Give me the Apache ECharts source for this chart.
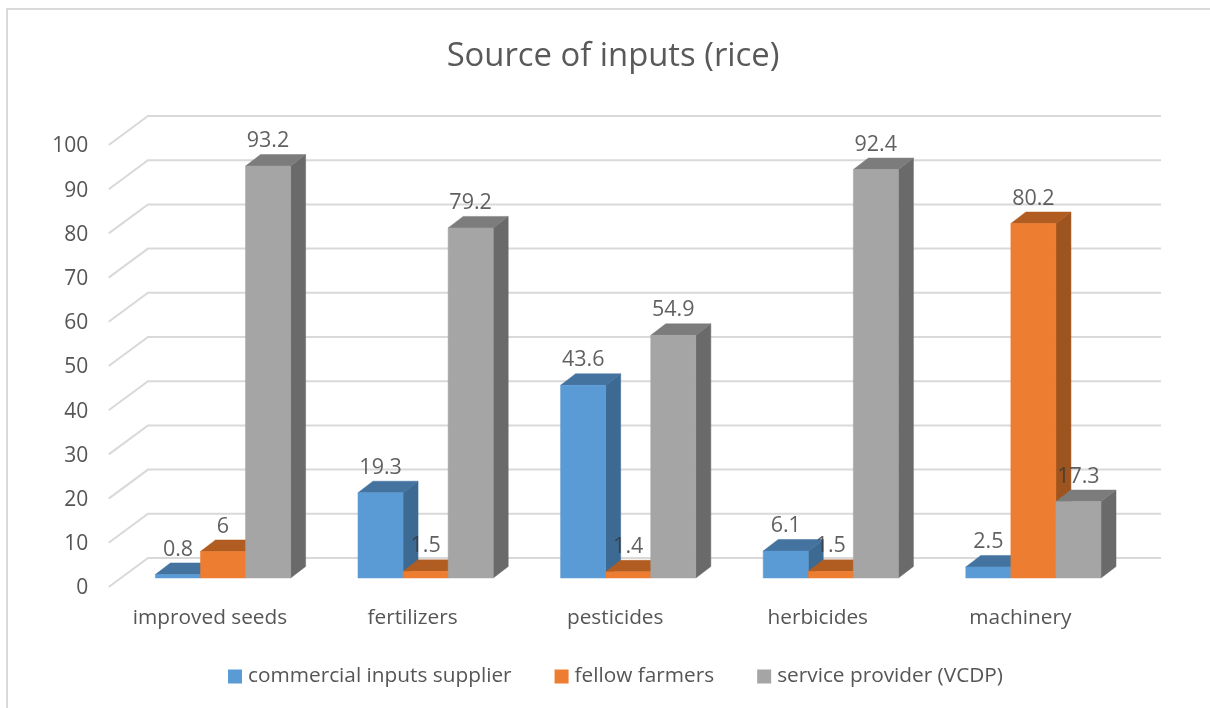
<!DOCTYPE html>
<html>
<head>
<meta charset="utf-8">
<style>html,body{margin:0;padding:0;background:#fff}#chart{width:1210px;height:708px}</style>
<script src="https://cdn.jsdelivr.net/npm/echarts@6/dist/echarts.min.js"></script>
</head>
<body>
<div id="chart"></div>
<script>
const categories = ['improved seeds', 'fertilizers', 'pesticides', 'herbicides', 'machinery'];
const supplierValues = [0.8, 19.3, 43.6, 6.1, 2.5];
const farmerValues = [6, 1.5, 1.4, 1.5, 80.2];
const providerValues = [93.2, 79.2, 54.9, 92.4, 17.3];
const valueTicks = [0, 10, 20, 30, 40, 50, 60, 70, 80, 90, 100];

const FONT = '"Open Sans", "Noto Sans", sans-serif';

// Oblique projection used for the fake 3D: bar depth, and how far the walls
// sit in front of and behind the plane the bars stand on.
const BAR_DEPTH = [15, -11.5];
const WALL_FRONT = [-13, 9];
const WALL_BACK = [26.3, -20];
const BAR_SHARE = 0.2225;

function shade(points, fill) {
  return { type: 'polygon', shape: { points }, style: { fill, stroke: fill, lineWidth: 0.5 } };
}

// One column: the front face plus the lit top and shadowed right side.
function barRenderer(slot, front, top, side) {
  return function (params, api) {
    const band = api.size([1, 0])[0];
    const w = band * BAR_SHARE;
    const up = api.coord([api.value(0), api.value(1)]);
    const base = api.coord([api.value(0), 0]);
    const l = up[0] + (slot - 1.5) * w;
    const r = l + w;
    const [dx, dy] = BAR_DEPTH;
    return {
      type: 'group',
      children: [
        shade([[r, up[1]], [r + dx, up[1] + dy], [r + dx, base[1] + dy], [r, base[1]]], side),
        shade([[l, up[1]], [l + dx, up[1] + dy], [r + dx, up[1] + dy], [r, up[1]]], top),
        shade([[l, up[1]], [r, up[1]], [r, base[1]], [l, base[1]]], front)
      ]
    };
  };
}

// Gridline folded across the left wall and along the back wall.
function renderGridLine(params, api) {
  const a = api.coord([0, api.value(0)]);
  const cs = params.coordSys;
  const right = cs.x + cs.width;
  return {
    type: 'polyline',
    shape: {
      points: [
        [cs.x + WALL_FRONT[0], a[1] + WALL_FRONT[1]],
        [cs.x + WALL_BACK[0], a[1] + WALL_BACK[1]],
        [right + WALL_BACK[0], a[1] + WALL_BACK[1]]
      ]
    },
    style: { fill: 'none', stroke: '#D9D9D9', lineWidth: 2 }
  };
}

const barSeries = (name, values, slot, front, top, side) => ({
  name,
  type: 'custom',
  z: 3,
  itemStyle: { color: front },
  encode: { x: 0, y: 1 },
  data: values.map((v, i) => [i, v]),
  renderItem: barRenderer(slot, front, top, side)
});

// Value captions sit above the back edge of each column's top face.
const labelSeries = (name, values, slot) => ({
  name,
  type: 'scatter',
  symbol: 'circle',
  symbolSize: 1,
  itemStyle: { color: 'rgba(0,0,0,0)' },
  z: 6,
  silent: true,
  data: values.map((v, i) => [i, v]),
  label: {
    show: true,
    position: 'top',
    distance: 0,
    offset: [(slot - 1) * 45, -13.5],
    fontFamily: FONT,
    fontSize: 21.5,
    color: '#383838',
    formatter: p => String(p.value[1])
  }
});

const chart = echarts.init(document.getElementById('chart'), null, { renderer: 'canvas' });
chart.setOption({
  animation: false,
  backgroundColor: '#ffffff',
  title: {
    text: 'Source of inputs (rice)',
    left: 608,
    top: 35,
    textAlign: 'center',
    textStyle: { fontFamily: FONT, fontSize: 32.8, fontWeight: 'normal', color: '#595959' }
  },
  legend: {
    data: ['commercial inputs supplier', 'fellow farmers', 'service provider (VCDP)'],
    icon: 'rect',
    left: 223,
    top: 661,
    itemWidth: 14,
    itemHeight: 14,
    itemGap: 43,
    textStyle: { fontFamily: FONT, fontSize: 20.8, color: '#555555', padding: [0, 0, 0, 1] }
  },
  grid: { left: 121.7, right: 75.3, top: 136, bottom: 130 },
  xAxis: {
    type: 'category',
    data: categories,
    axisLine: { show: false },
    axisTick: { show: false },
    axisLabel: {
      fontFamily: FONT, fontSize: 20.8, color: '#555555',
      margin: 30, padding: [0, 26, 0, 0]
    }
  },
  yAxis: {
    type: 'value',
    min: 0,
    max: 100,
    interval: 10,
    splitLine: { show: false },
    axisLine: { show: false },
    axisTick: { show: false },
    axisLabel: {
      fontFamily: FONT, fontSize: 21, color: '#555555',
      margin: 33.5, verticalAlign: 'top'
    }
  },
  graphic: [{
    type: 'polyline',
    silent: true,
    shape: { points: [[7, 708], [7, 9], [1210, 9]] },
    style: { fill: 'none', stroke: '#D9D9D9', lineWidth: 2 }
  }],
  series: [
    {
      name: 'gridlines',
      type: 'custom',
      z: 1,
      silent: true,
      data: valueTicks.map(t => [t]),
      encode: { y: 0 },
      renderItem: renderGridLine
    },
    barSeries('commercial inputs supplier', supplierValues, 0, '#5B9BD5', '#44739F', '#3D6A92'),
    barSeries('fellow farmers', farmerValues, 1, '#ED7D31', '#B15C20', '#9E541E'),
    barSeries('service provider (VCDP)', providerValues, 2, '#A5A5A5', '#7C7C7C', '#6A6A6A'),
    labelSeries('supplier values', supplierValues, 0),
    labelSeries('farmer values', farmerValues, 1),
    labelSeries('provider values', providerValues, 2)
  ]
});
</script>
</body>
</html>
